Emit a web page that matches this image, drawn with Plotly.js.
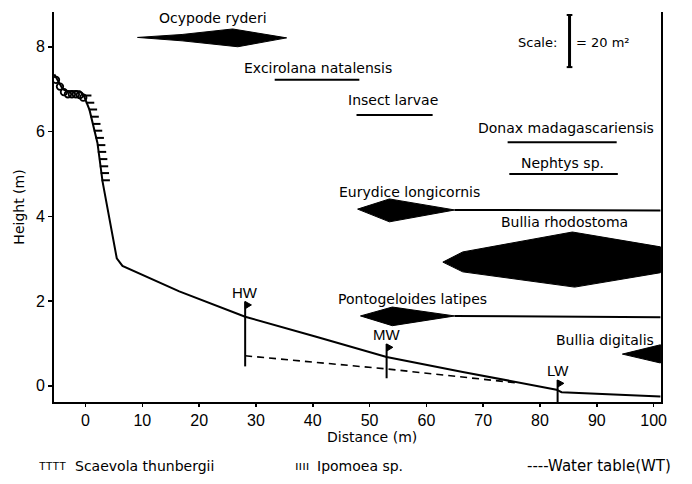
<!DOCTYPE html>
<html>
<head>
<meta charset="utf-8">
<script src="https://cdn.plot.ly/plotly-3.0.1.min.js"></script>
<style>html,body{margin:0;padding:0;background:#fff;}#chart{width:692px;height:484px;}</style>
</head>
<body>
<div id="chart"></div>
<script>
// ---- Beach profile ----
const profileX = [-5.5, -4.8, -4.0, -3.2, -1.0, -0.3, 0.7, 2.1, 3.0, 5.5, 6.5, 16.5, 28.1, 40.6, 53.0, 66.4, 82.9, 83.8, 101.2];
const profileY = [7.35, 7.2, 7.0, 6.95, 6.95, 6.85, 6.51, 5.73, 4.82, 3.01, 2.83, 2.23, 1.63, 1.16, 0.68, 0.33, -0.09, -0.15, -0.25];

// ---- Water table ----
const waterTableX = [28.1, 53.0, 76.0];
const waterTableY = [0.71, 0.40, 0.07];

// ---- Tide marks ----
const tideLabels = ['HW', 'MW', 'LW'];
const tideX = [28.1, 53.0, 83.1];
const tideBottom = [0.46, 0.18, -0.38];
const tideTop = [1.99, 0.99, 0.14];

// ---- Vegetation ----
const scaevolaX = [-5.2, -4.5, -3.8, -3.1, -2.4, -1.7, -1.0, -0.4];
const scaevolaY = [7.22, 7.06, 6.93, 6.88, 6.88, 6.88, 6.86, 6.8];
const ipomoeaX = [0.3, 0.8, 1.3, 1.6, 1.9, 2.2, 2.5, 2.75, 2.9, 3.1, 3.25, 3.4, 3.55];
const ipomoeaY = [6.85, 6.68, 6.52, 6.35, 6.18, 6.02, 5.85, 5.68, 5.52, 5.35, 5.18, 5.02, 4.85];

// ---- Species distributions ----
const speciesNames = ['Ocypode ryderi', 'Excirolana natalensis', 'Insect larvae', 'Donax madagascariensis',
  'Nephtys sp.', 'Eurydice longicornis', 'Bullia rhodostoma', 'Pontogeloides latipes', 'Bullia digitalis'];
const ocypodeX = [9.15, 17, 25.9, 35.4, 26.8, 17, 9.15];
const ocypodeY = [8.22, 8.29, 8.42, 8.21, 8.0, 8.14, 8.22];
const excirolanaX = [33.3, 48.2];
const excirolanaY = [7.22, 7.22];
const insectX = [47.7, 61.1];
const insectY = [6.39, 6.39];
const donaxX = [74.3, 93.5];
const donaxY = [5.75, 5.75];
const nephtysX = [74.6, 93.7];
const nephtysY = [5.0, 5.0];
const eurydiceX = [47.9, 53.5, 65.0, 53.5, 47.9];
const eurydiceY = [4.17, 4.41, 4.15, 3.87, 4.17];
const eurydiceTailX = [65.0, 101.2];
const eurydiceTailY = [4.15, 4.14];
const rhodostomaX = [62.9, 66.4, 85.7, 101.2, 101.2, 86.1, 66.4, 62.9];
const rhodostomaY = [2.92, 3.16, 3.63, 3.28, 2.67, 2.33, 2.69, 2.92];
const pontoX = [48.4, 54.0, 65.0, 54.0, 48.4];
const pontoY = [1.65, 1.86, 1.65, 1.42, 1.65];
const pontoTailX = [65.0, 101.2];
const pontoTailY = [1.65, 1.62];
const digitalisX = [94.5, 101.2, 101.2, 94.5];
const digitalisY = [0.75, 0.97, 0.54, 0.75];

const xTicks = [0, 10, 20, 30, 40, 50, 60, 70, 80, 90, 100];
const yTicks = [0, 2, 4, 6, 8];

const FONT = 'Liberation Sans, Arial, sans-serif';
const DJ = 'DejaVu Sans, sans-serif';
const traces = [];
function line(x, y, w, dash) {
  traces.push({x: x, y: y, mode: 'lines', line: {color: '#000', width: w, dash: dash || 'solid'}, hoverinfo: 'skip', showlegend: false});
}
function poly(x, y) {
  traces.push({x: x, y: y, mode: 'lines', fill: 'toself', fillcolor: '#000', line: {color: '#000', width: 1}, hoverinfo: 'skip', showlegend: false});
}

line(profileX, profileY, 2);
line(waterTableX, waterTableY, 1.6, '7px,5px');

// tide poles
const poleX = [], poleY = [];
tideX.forEach((x, i) => { poleX.push(x, x, null); poleY.push(tideBottom[i], tideTop[i], null); });
line(poleX, poleY, 2);
tideX.forEach((x, i) => { poly([x, x + 1.1, x, x], [tideTop[i], tideTop[i] - 0.08, tideTop[i] - 0.17, tideTop[i]]); });

// vegetation
traces.push({x: scaevolaX, y: scaevolaY, mode: 'markers', marker: {symbol: 'circle-open', size: 6.5, color: '#000', line: {width: 1.8, color: '#000'}}, hoverinfo: 'skip', showlegend: false});
traces.push({x: ipomoeaX, y: ipomoeaY, mode: 'markers', marker: {symbol: 'line-ew', size: 6, color: '#000', line: {width: 2, color: '#000'}}, hoverinfo: 'skip', showlegend: false});

// species
poly(ocypodeX, ocypodeY);
line(excirolanaX, excirolanaY, 2);
line(insectX, insectY, 2);
line(donaxX, donaxY, 2);
line(nephtysX, nephtysY, 2);
poly(eurydiceX, eurydiceY);
line(eurydiceTailX, eurydiceTailY, 2);
poly(rhodostomaX, rhodostomaY);
poly(pontoX, pontoY);
line(pontoTailX, pontoTailY, 2);
poly(digitalisX, digitalisY);

function ann(x, y, text, opts) {
  return Object.assign({x: x, y: y, xref: 'x', yref: 'y', text: text, showarrow: false, yanchor: 'middle', xanchor: 'center',
    font: {family: DJ, size: 14, color: '#000'}}, opts || {});
}
const labelPos = [[22.4, 8.67], [41.0, 7.5], [54.2, 6.75], [84.5, 6.08], [84.0, 5.26], [57.0, 4.58], [84.3, 3.87], [57.6, 2.06], [91.4, 1.08]];
const annotations = speciesNames.map((n, i) => ann(labelPos[i][0], labelPos[i][1], n));
tideLabels.forEach((t, i) => annotations.push(ann(tideX[i], tideTop[i] + 0.22, t, {font: {family: FONT, size: 15, color: '#000'}})));
annotations.push(ann(79.6, 8.09, 'Scale:', {font: {family: DJ, size: 13, color: '#000'}}));
annotations.push(ann(86.0, 8.09, '= 20 m²', {xanchor: 'left', font: {family: DJ, size: 13, color: '#000'}}));
// x-axis title positioned like the reference
annotations.push(ann(0.524, -0.0897, 'Distance (m)', {xref: 'paper', yref: 'paper'}));
// bottom legend
const legY = -0.164;
const legFont = {family: DJ, size: 14, color: '#000'};
annotations.push(ann(-0.028, legY, 'TTTT', {xref: 'paper', yref: 'paper', xanchor: 'left', font: {family: FONT, size: 11, color: '#000'}}));
annotations.push(ann(0.031, legY, 'Scaevola thunbergii', {xref: 'paper', yref: 'paper', xanchor: 'left', font: legFont}));
annotations.push(ann(0.394, legY, 'ıııı', {xref: 'paper', yref: 'paper', xanchor: 'left', font: {family: FONT, size: 13, color: '#000'}}));
annotations.push(ann(0.43, legY, 'Ipomoea sp.', {xref: 'paper', yref: 'paper', xanchor: 'left', font: legFont}));
annotations.push(ann(0.776, legY, '----Water table(WT)', {xref: 'paper', yref: 'paper', xanchor: 'left', font: {family: DJ, size: 15, color: '#000'}}));

const shapes = [
  {type: 'line', xref: 'x', yref: 'y', x0: 85.2, x1: 85.2, y0: 7.52, y1: 8.75, line: {color: '#000', width: 3}},
  {type: 'line', xref: 'x', yref: 'y', x0: 84.7, x1: 85.7, y0: 8.75, y1: 8.75, line: {color: '#000', width: 2}},
  {type: 'line', xref: 'x', yref: 'y', x0: 84.7, x1: 85.7, y0: 7.52, y1: 7.52, line: {color: '#000', width: 2}}
];

const layout = {
  width: 692, height: 484,
  margin: {l: 54, r: 31, t: 12, b: 82},
  paper_bgcolor: '#fff', plot_bgcolor: '#fff',
  showlegend: false,
  font: {family: FONT, color: '#000'},
  xaxis: {range: [-5.55, 101.3], tickvals: xTicks, ticktext: xTicks.map(String), showgrid: false, zeroline: false,
    showline: true, linewidth: 2, linecolor: '#000', mirror: false, ticks: 'outside', ticklen: 3, tickwidth: 1.5, tickcolor: '#000',
    tickfont: {family: FONT, size: 16, color: '#000'}},
  yaxis: {range: [-0.38, 8.82], tickvals: yTicks, ticktext: yTicks.map(String), showgrid: false, zeroline: false,
    showline: true, linewidth: 2, linecolor: '#000', mirror: true, ticks: 'outside', ticklen: 4, tickwidth: 1.5, tickcolor: '#000',
    tickfont: {family: FONT, size: 16, color: '#000'},
    title: {text: 'Height (m)', font: {family: DJ, size: 14, color: '#000'}, standoff: 8}},
  annotations: annotations,
  shapes: shapes
};

Plotly.newPlot('chart', traces, layout, {displayModeBar: false, staticPlot: true});
</script>
</body>
</html>
